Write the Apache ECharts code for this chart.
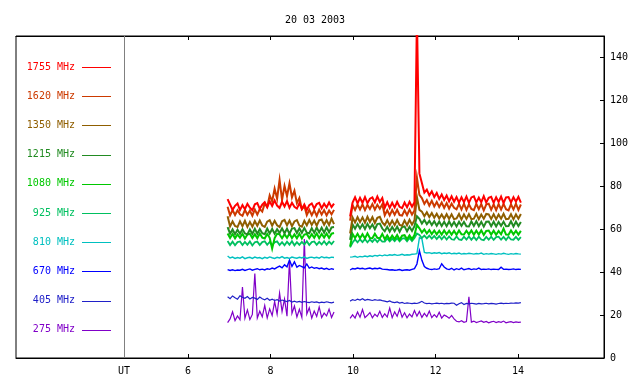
<!DOCTYPE html>
<html>
<head>
<meta charset="utf-8">
<script src="https://cdn.jsdelivr.net/npm/echarts@6/dist/echarts.min.js"></script>
<style>html,body{margin:0;padding:0;background:#fff}#c{width:640px;height:384px}</style>
</head>
<body>
<div id="c"></div>
<script>
// ---------- data ----------
const title = '20 03 2003';
const xTicks = [6, 8, 10, 12, 14];
const yTicks = [0, 20, 40, 60, 80, 100, 120, 140];
const utPos = 4.448;
const names = ['1755 MHz','1620 MHz','1350 MHz','1215 MHz','1080 MHz','925 MHz','810 MHz','670 MHz','405 MHz','275 MHz'];
const colors = ['#ff0000','#cc3a00','#8f5e00','#228b22','#00c800','#00c060','#00c0c0','#0000ff','#2020c8','#8000c8'];
const widths = [2, 2, 2, 2, 2, 1.8, 1.4, 1.4, 1.2, 1.2];

const T1 = [6.96,7.02,7.08,7.14,7.20,7.26,7.32,7.38,7.44,7.50,7.56,7.62,7.68,7.74,7.80,7.86,7.92,7.98,8.04,8.10,8.16,8.22,8.28,8.34,8.40,8.46,8.52,8.58,8.64,8.70,8.76,8.82,8.88,8.94,9.00,9.06,9.12,9.18,9.24,9.30,9.36,9.42,9.48,9.54];
const T2 = [9.93,9.99,10.05,10.11,10.17,10.23,10.29,10.35,10.41,10.47,10.53,10.59,10.65,10.71,10.77,10.83,10.89,10.95,11.01,11.07,11.13,11.19,11.25,11.31,11.37,11.43,11.49,11.55,11.61,11.67,11.73,11.79,11.85,11.91,11.97,12.03,12.09,12.15,12.21,12.27,12.33,12.39,12.45,12.51,12.57,12.63,12.69,12.75,12.81,12.87,12.93,12.99,13.05,13.11,13.17,13.23,13.29,13.35,13.41,13.47,13.53,13.59,13.65,13.71,13.77,13.83,13.89,13.95,14.01,14.07];

const s1755a = [74.0,71.5,69.0,70.9,72.0,68.9,71.2,69.3,71.8,70.0,68.8,71.6,72.2,69.5,71.4,72.6,70.2,73.0,70.8,73.4,71.0,69.9,72.8,70.6,73.1,70.0,72.3,70.4,69.6,72.1,69.4,71.5,69.0,71.2,72.0,69.6,71.7,72.3,69.8,71.9,70.1,72.5,70.3,71.9];
const s1755b = [66.0,72.4,74.9,72.0,74.6,72.3,75.0,72.1,74.2,74.8,72.5,75.2,72.7,74.5,
 70.0,72.6,69.9,72.3,70.1,72.7,70.4,69.8,72.4,70.2,72.8,70.5,72.5,
 160,86,81.5,77.0,78.4,75.8,77.6,75.0,76.9,74.1,76.2,73.6,75.7,73.0,75.3,72.8,75.0,72.4,74.9,72.6,75.2,72.3,74.8,75.3,72.5,74.7,72.6,75.4,72.4,74.6,75.1,72.3,74.9,72.7,75.2,72.2,74.8,75.0,72.5,74.9,72.8,75.1,72.4];

const s1620a = [70.5,66.4,68.9,66.6,68.8,66.9,66.2,69.0,66.7,68.7,66.3,69.2,66.8,69.4,68.2,72.0,70.4,75.8,73.0,78.9,74.2,83.0,73.6,80.2,75.4,81.4,74.8,77.9,72.1,74.5,69.3,70.8,66.6,69.0,66.5,68.8,66.2,69.1,66.8,68.9,66.4,68.7,66.9,69.0];
const s1620b = [64.0,71.2,69.0,71.5,69.2,71.6,68.9,71.3,69.4,71.7,69.1,71.4,69.5,71.6,
 66.5,68.8,66.4,68.9,66.7,69.0,66.6,66.3,68.8,66.5,69.1,66.8,68.7,
 84.0,76.0,74.5,71.8,73.6,71.0,73.2,70.6,72.7,70.3,72.4,69.9,72.2,69.6,71.9,70.0,69.3,71.8,69.2,71.9,69.0,71.6,69.4,68.9,71.8,69.3,71.7,68.8,71.5,71.9,69.1,71.6,68.9,71.7,69.2,71.8,69.3,68.8,71.6,69.2,71.9,69.0,71.5];

const s1350a = [66.0,61.3,63.6,61.5,61.0,63.7,61.4,63.9,61.1,63.4,61.2,63.8,61.6,64.0,61.7,61.1,63.5,64.2,61.6,63.9,61.8,61.0,63.7,64.3,61.8,64.0,61.4,63.6,64.2,61.7,61.2,63.9,61.8,64.3,62.0,64.0,61.6,64.1,64.5,62.1,64.2,61.9,64.9,62.4];
const s1350b = [58.0,65.4,63.1,65.6,63.3,65.5,63.0,65.8,63.4,65.6,62.9,65.3,65.8,63.2,
 61.9,64.2,61.8,64.0,61.9,64.3,62.0,61.6,64.1,61.9,64.4,62.1,64.2,
 75.0,69.0,68.2,66.0,67.9,65.7,67.5,65.3,67.2,65.0,66.9,64.9,67.0,64.8,66.9,64.7,65.0,67.1,64.6,66.9,64.8,67.0,64.7,64.9,67.2,64.6,66.8,64.9,67.1,66.9,64.8,67.0,64.6,66.8,64.9,67.2,64.7,64.8,67.0,64.6,66.9,64.9,67.1];

const s1215a = [61.0,57.9,59.9,57.7,59.8,57.9,60.0,58.0,57.6,59.9,57.8,60.2,57.9,60.1,58.1,57.7,60.3,58.0,60.1,57.9,60.0,58.2,60.4,58.1,60.2,57.9,60.3,60.5,58.2,60.4,58.3,60.6,58.4,58.1,60.5,58.3,60.8,58.5,60.7,58.4,60.9,58.6,60.8,61.0];
const s1215b = [55.0,62.2,60.2,62.4,60.3,62.3,60.1,62.5,60.4,62.2,60.0,62.4,62.6,60.3,
 59.0,61.1,58.9,61.0,59.1,61.2,58.8,61.0,61.3,59.0,61.1,59.2,61.4,
 66.0,64.8,62.6,64.3,62.3,63.9,61.9,63.7,61.6,63.6,61.5,63.5,61.4,63.6,61.5,63.4,61.3,63.5,61.6,63.4,61.4,61.3,63.6,61.5,63.7,61.4,63.4,61.2,63.5,63.6,61.4,63.5,61.3,63.4,61.6,63.5,61.4,61.5,63.7,61.3,63.5,61.5,63.4];

const s1080a = [58.0,55.9,57.8,55.8,57.6,56.0,57.9,55.7,57.5,57.9,55.9,57.7,55.8,58.0,56.1,55.7,57.8,56.0,51.0,55.9,57.9,57.6,55.8,57.7,56.0,58.0,55.9,57.6,55.8,57.9,55.7,57.5,57.8,55.9,57.7,56.0,58.1,55.8,57.8,56.1,58.0,55.9,57.9,58.2];
const s1080b = [52.0,57.8,55.9,57.9,55.8,57.7,55.7,58.0,55.9,55.8,57.9,56.0,55.7,57.8,
 55.3,57.1,55.2,57.0,55.4,57.3,55.1,57.0,57.2,55.3,57.1,55.4,57.3,
 62.0,60.4,58.5,59.9,58.0,59.6,57.7,59.4,57.6,59.3,57.5,59.4,57.6,59.3,57.5,59.2,57.4,59.4,57.6,57.5,59.3,57.6,59.4,57.4,59.3,57.5,59.5,57.3,59.2,59.4,57.5,59.3,57.4,59.2,57.6,60.3,57.5,57.4,59.4,57.6,59.3,57.5,59.2];

const s925a = [54.5,52.6,54.2,52.5,54.0,54.3,52.6,54.1,52.7,54.3,52.4,53.9,54.2,52.6,54.0,54.4,52.7,54.1,52.5,53.9,54.3,52.6,54.0,52.5,54.2,52.8,54.4,52.5,54.0,52.7,54.1,52.8,54.4,52.6,54.0,54.3,52.7,54.1,52.9,54.4,52.8,54.2,53.0,54.5];
const s925b = [51.5,53.8,55.2,53.9,55.3,54.0,55.4,53.9,55.2,54.1,55.5,54.0,55.4,54.2,
 54.2,55.7,54.3,55.6,54.4,55.8,54.3,55.6,55.8,54.4,55.9,54.5,55.9,
 58.0,57.3,55.9,57.0,55.7,57.0,55.6,56.9,55.4,56.8,55.3,56.7,55.2,56.6,55.3,55.1,56.6,55.2,55.0,56.5,55.2,56.6,55.1,56.4,55.0,56.5,55.2,54.9,56.4,55.1,56.5,55.0,56.3,56.5,55.1,56.4,55.0,56.5,55.2,55.1,56.4,55.0,56.3];

const s810a = [47.5,46.6,47.0,46.4,46.8,46.5,47.1,46.3,46.7,46.9,46.4,47.0,46.6,46.8,46.3,46.9,46.5,47.1,46.7,46.4,46.9,46.6,47.2,46.5,46.8,46.4,47.0,46.7,46.5,46.9,46.6,47.1,46.4,46.8,47.0,46.6,46.9,46.5,47.2,46.7,46.9,46.6,47.0,46.8];
const s810b = [47.0,47.1,47.4,46.9,47.3,47.1,47.5,47.2,47.6,47.3,47.8,47.5,47.9,47.6,
 48.0,47.7,48.1,47.9,48.2,47.8,48.0,48.3,47.9,48.1,48.0,48.3,48.4,
 48.6,56.0,55.5,49.2,48.9,49.1,48.7,49.0,48.8,49.1,48.6,48.9,48.7,49.0,48.5,48.8,48.6,48.9,48.4,48.7,48.5,48.8,48.6,48.4,48.7,48.5,48.9,48.3,48.6,48.4,48.7,48.5,48.3,48.6,48.4,48.8,48.5,48.3,48.6,48.4,48.7,48.5,48.4];

const s670a = [41.2,40.8,41.1,40.7,41.0,40.9,41.3,40.8,41.2,41.5,40.9,41.3,41.6,41.1,41.4,41.0,41.6,41.3,41.9,41.5,42.2,42.8,42.0,43.4,42.5,45.6,42.7,44.8,42.3,43.1,42.6,42.0,43.8,41.9,42.4,41.8,42.1,41.6,41.9,41.4,41.8,41.2,41.6,41.3];
const s670b = [41.0,41.7,41.5,41.9,41.6,41.8,41.4,41.7,41.9,41.5,41.8,41.6,41.9,41.4,
 41.3,41.2,41.0,41.1,40.9,41.0,41.2,40.8,41.0,41.1,40.9,41.3,41.6,
 43.8,50.0,45.5,42.6,41.8,41.4,41.2,41.5,41.3,41.6,43.9,42.4,41.5,41.2,41.8,41.0,41.6,41.2,41.9,41.1,41.4,41.7,41.2,41.5,41.3,41.9,41.2,41.4,41.3,41.5,41.2,41.4,41.3,41.2,42.3,41.3,41.4,41.2,41.3,41.5,41.2,41.4,41.3];

const s405a = [28.5,27.6,28.9,28.1,27.4,29.0,28.3,27.8,28.6,27.5,28.2,27.9,27.3,28.4,27.6,27.1,27.8,26.9,27.4,26.8,27.2,26.5,27.0,26.6,26.3,26.8,26.1,26.5,26.0,26.4,25.9,26.3,26.0,25.8,26.2,25.9,26.1,25.7,26.0,25.8,26.2,25.9,25.7,26.0];
const s405b = [26.5,27.2,26.8,27.4,27.0,27.6,26.9,27.3,27.1,26.8,27.2,26.9,27.1,26.7,
 26.5,26.2,26.6,26.0,25.8,26.1,25.6,25.9,25.4,25.7,25.5,25.3,25.6,
 25.4,25.8,26.4,25.6,25.3,25.5,25.2,25.4,25.6,25.3,25.5,25.2,25.4,25.3,25.6,25.5,24.6,25.3,25.8,24.9,25.4,25.2,25.5,25.3,25.1,25.4,25.2,25.3,25.5,25.2,25.4,25.3,25.1,25.4,25.6,25.3,25.5,25.4,25.6,25.5,25.7,25.6,25.8];

const s275a = [16.5,18.2,21.5,17.4,19.6,17.8,33.0,18.5,22.4,17.9,20.3,39.4,18.6,21.8,19.2,24.5,18.7,22.9,19.8,26.3,20.4,30.2,21.6,27.5,19.5,45.6,20.8,24.2,19.1,22.7,18.9,55.4,20.5,23.4,18.6,21.9,19.4,23.8,18.8,20.9,19.6,22.8,18.9,21.4];
const s275b = [18.5,20.1,18.6,21.4,19.0,22.6,18.8,19.9,21.2,18.7,20.4,19.3,21.8,18.9,
 20.6,19.1,23.3,18.8,21.5,19.4,22.8,19.0,21.1,18.7,20.5,19.2,22.1,
 19.5,21.7,18.9,20.8,19.3,21.9,18.8,20.2,19.0,21.3,18.6,20.0,19.4,18.5,19.8,18.2,17.1,16.8,17.4,16.6,17.0,28.5,16.7,17.2,16.5,16.9,17.3,16.6,17.0,16.4,16.8,17.1,16.5,16.9,16.6,17.2,16.4,16.7,16.9,16.5,16.8,16.6,16.7];

const segA = [s1755a,s1620a,s1350a,s1215a,s1080a,s925a,s810a,s670a,s405a,s275a];
const segB = [s1755b,s1620b,s1350b,s1215b,s1080b,s925b,s810b,s670b,s405b,s275b];

// ---------- chart ----------
const FONT = 'DejaVu Sans Mono';
const gapX = (T1[T1.length-1] + T2[0]) / 2;
function build(a, b) {
  const d = T1.map((t, i) => [t, a[i]]);
  d.push([gapX, '-']);
  T2.forEach((t, i) => d.push([t, b[i]]));
  return d;
}

const series = [];
for (let i = names.length - 1; i >= 0; i--) {
  const s = {
    name: names[i], type: 'line', data: build(segA[i], segB[i]),
    showSymbol: false, symbol: 'none', connectNulls: false,
    lineStyle: { width: widths[i], color: colors[i], join: 'miter' }, itemStyle: { color: colors[i] },
    animation: false, silent: true, clip: true, z: 3
  };
  if (i === names.length - 1) {
    s.markLine = {
      silent: true, symbol: ['none','none'], animation: false,
      label: { show: false },
      lineStyle: { color: '#808080', width: 1, type: 'solid' },
      data: [{ xAxis: utPos }]
    };
  }
  series.push(s);
}

const graphics = [];
names.forEach((n, i) => {
  const y = 67 + i * 29.2;
  graphics.push({ type: 'text', x: 75, y: y, style: { text: n, fill: colors[i], font: '10px "' + FONT + '"', textAlign: 'right', textVerticalAlign: 'middle' }, silent: true });
  graphics.push({ type: 'rect', shape: { x: 82, y: Math.round(y), width: 29, height: 1 }, style: { fill: colors[i] }, silent: true });
});

const chart = echarts.init(document.getElementById('c'), null, { renderer: 'canvas' });
chart.setOption({
  animation: false,
  backgroundColor: '#ffffff',
  title: { text: title, left: 310, top: 10, textAlign: 'center', textStyle: { fontFamily: FONT, fontSize: 10, fontWeight: 'normal', color: '#000' } },
  grid: { left: 16, right: 36, top: 36, bottom: 26, show: true, borderColor: '#000', borderWidth: 1, backgroundColor: 'transparent' },
  xAxis: [
    { type: 'value', position: 'bottom', min: 1.83, max: 16.085,
      axisLine: { show: true, lineStyle: { color: '#000' } },
      axisTick: { show: true, inside: true, length: 4, lineStyle: { color: '#000' }, customValues: xTicks },
      axisLabel: { show: true, margin: 8, fontFamily: FONT, fontSize: 10, color: '#000', customValues: [utPos].concat(xTicks), formatter: v => (v < 5 ? 'UT' : String(v)) },
      splitLine: { show: false } },
    { type: 'value', position: 'top', min: 1.83, max: 16.085,
      axisLine: { show: true, lineStyle: { color: '#000' } },
      axisTick: { show: true, inside: true, length: 4, lineStyle: { color: '#000' }, customValues: xTicks },
      axisLabel: { show: false }, splitLine: { show: false } }
  ],
  yAxis: { type: 'value', position: 'right', min: 0, max: 150,
    axisLine: { show: true, lineStyle: { color: '#000' } },
    axisTick: { show: true, inside: true, length: 4, lineStyle: { color: '#000' }, customValues: yTicks },
    axisLabel: { show: true, margin: 6, fontFamily: FONT, fontSize: 10, color: '#000', customValues: yTicks },
    splitLine: { show: false } },
  graphic: graphics,
  series: series
});
</script>
</body>
</html>
